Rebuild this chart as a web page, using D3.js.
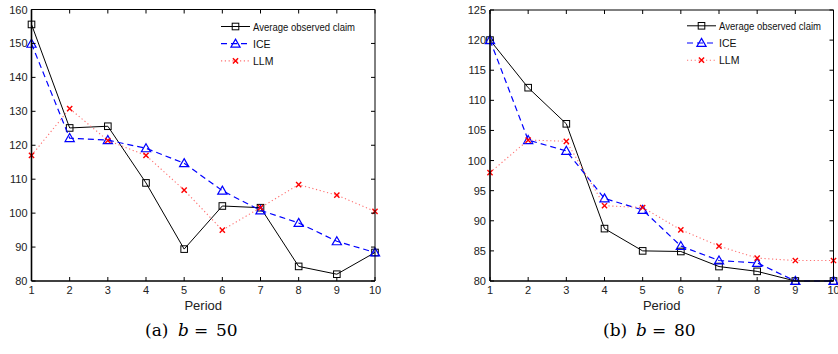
<!DOCTYPE html>
<html lang="en">
<head>
<meta charset="UTF-8" />
<title>Average observed claim vs ICE vs LLM</title>
<script src="https://d3js.org/d3.v7.min.js"></script>
<style>
  body { margin: 0; background: #fff; }
  svg { display: block; }
  .tick-label { font-family: "Liberation Sans", Arial, sans-serif; font-size: 11px; fill: #222; }
  .legend text { font-family: "Liberation Sans", Arial, sans-serif; font-size: 10.5px; fill: #111; }
  .caption { font-family: "DejaVu Serif", "Liberation Serif", serif; font-size: 17px; fill: #000; }
</style>
</head>
<body>
<div id="chart"></div>
<script>
// periods on the x axis
const periods = [1, 2, 3, 4, 5, 6, 7, 8, 9, 10];

// (a) b = 50
const avgClaim50 = [155.6, 125.1, 125.6, 108.9, 89.4, 102.1, 101.6, 84.3, 82.0, 88.4];
const ice50 = [149.9, 122.1, 121.5, 119.1, 114.7, 106.6, 100.8, 97.1, 91.7, 88.4];
const llm50 = [117.0, 130.8, 121.4, 117.0, 106.8, 95.0, 101.6, 108.4, 105.3, 100.5];
const yTicks50 = [80, 90, 100, 110, 120, 130, 140, 150, 160];

// (b) b = 80
const avgClaim80 = [120.0, 112.1, 106.1, 88.7, 85.0, 84.9, 82.4, 81.6, 80.0, 80.0];
const ice80 = [120.0, 103.4, 101.6, 93.7, 91.8, 85.8, 83.4, 83.0, 80.0, 80.0];
const llm80 = [98.0, 103.4, 103.2, 92.5, 92.2, 88.5, 85.8, 83.8, 83.4, 83.4];
const yTicks80 = [80, 85, 90, 95, 100, 105, 110, 115, 120, 125];

const seriesNames = ["Average observed claim", "ICE", "LLM"];

const W = 838, H = 354;
const svg = d3.select("#chart").append("svg").attr("width", W).attr("height", H);

// line / marker styles for each series
const styles = [
  { color: "#000", dash: null, width: 1, marker: "square" },
  { color: "#0000ff", dash: "6,4", width: 1.2, marker: "triangle" },
  { color: "#ff7070", dash: "1.2,2.6", width: 1.1, marker: "cross", markerColor: "#ff0000" }
];

function drawMarker(g, type, x, y, color) {
  if (type === "square") {
    g.append("rect").attr("x", x - 3.3).attr("y", y - 3.3).attr("width", 6.6).attr("height", 6.6)
      .attr("fill", "none").attr("stroke", color).attr("stroke-width", 1);
  } else if (type === "triangle") {
    const s = 4.6;
    g.append("path")
      .attr("d", `M${x},${y - s} L${x + s},${y + s * 0.75} L${x - s},${y + s * 0.75} Z`)
      .attr("fill", "none").attr("stroke", color).attr("stroke-width", 1.2);
  } else {
    const s = 2.6;
    g.append("path")
      .attr("d", `M${x - s},${y - s} L${x + s},${y + s} M${x - s},${y + s} L${x + s},${y - s}`)
      .attr("stroke", color).attr("stroke-width", 1.4);
  }
}

function drawPanel(p) {
  const x = d3.scaleLinear().domain([1, 10]).range([p.left, p.right]);
  const y = d3.scaleLinear().domain([p.yTicks[0], p.yTicks[p.yTicks.length - 1]]).range([p.bottom, p.top]);
  const g = svg.append("g");

  // series lines + markers
  p.series.forEach((vals, i) => {
    const st = styles[i];
    const line = d3.line().x((d, j) => x(periods[j])).y(d => y(d));
    g.append("path").datum(vals).attr("d", line)
      .attr("fill", "none").attr("stroke", st.color).attr("stroke-width", st.width)
      .attr("stroke-dasharray", st.dash);
    vals.forEach((v, j) => drawMarker(g, st.marker, x(periods[j]), y(v), st.markerColor || st.color));
  });

  // box with inward ticks
  const tl = 4;
  g.append("line").attr("x1", p.left).attr("x2", p.right).attr("y1", p.top).attr("y2", p.top).attr("stroke", "#000").attr("stroke-width", 1);
  g.append("line").attr("x1", p.right).attr("x2", p.right).attr("y1", p.top).attr("y2", p.bottom).attr("stroke", "#000").attr("stroke-width", 1);
  g.append("line").attr("x1", p.left).attr("x2", p.left).attr("y1", p.top).attr("y2", p.bottom).attr("stroke", "#000").attr("stroke-width", 1.6);
  g.append("line").attr("x1", p.left).attr("x2", p.right).attr("y1", p.bottom).attr("y2", p.bottom).attr("stroke", "#000").attr("stroke-width", 1.6);

  periods.forEach(t => {
    const px = x(t);
    g.append("line").attr("x1", px).attr("x2", px).attr("y1", p.bottom).attr("y2", p.bottom - tl).attr("stroke", "#000");
    g.append("line").attr("x1", px).attr("x2", px).attr("y1", p.top).attr("y2", p.top + tl).attr("stroke", "#000");
    g.append("text").attr("class", "tick-label").attr("x", px).attr("y", p.bottom + 13)
      .attr("text-anchor", "middle").text(t);
  });
  p.yTicks.forEach(t => {
    const py = y(t);
    g.append("line").attr("x1", p.left).attr("x2", p.left + tl).attr("y1", py).attr("y2", py).attr("stroke", "#000");
    g.append("line").attr("x1", p.right).attr("x2", p.right - tl).attr("y1", py).attr("y2", py).attr("stroke", "#000");
    g.append("text").attr("class", "tick-label").attr("x", p.left - 4).attr("y", py + 4)
      .attr("text-anchor", "end").text(t);
  });

  // x axis title
  g.append("text").attr("class", "tick-label").style("font-size", "13px")
    .attr("x", (p.left + p.right) / 2).attr("y", p.bottom + 29)
    .attr("text-anchor", "middle").text("Period");

  // legend
  const lg = g.append("g").attr("class", "legend");
  seriesNames.forEach((name, i) => {
    const st = styles[i];
    const ly = p.legendY + i * 17.2;
    lg.append("line").attr("x1", p.legendX).attr("x2", p.legendX + 29).attr("y1", ly).attr("y2", ly)
      .attr("stroke", st.color).attr("stroke-width", st.width).attr("stroke-dasharray", st.dash);
    drawMarker(lg, st.marker, p.legendX + 14.5, ly, st.markerColor || st.color);
    lg.append("text").attr("x", p.legendX + 32).attr("y", ly + 4)
      .attr("textLength", i === 0 ? 102 : null).attr("lengthAdjust", "spacingAndGlyphs")
      .text(name);
  });

  // caption: (a) b = 50
  const cx = p.captionX;
  const cap = g.append("text").attr("class", "caption").attr("y", 336);
  cap.append("tspan").attr("x", cx).text(p.captionTag);
  cap.append("tspan").attr("x", cx + 33).style("font-style", "italic").text("b");
  cap.append("tspan").attr("x", cx + 49).text("=");
  cap.append("tspan").attr("x", cx + 71).text(p.captionVal);
}

drawPanel({
  left: 31.5, right: 375, top: 9.5, bottom: 281,
  yTicks: yTicks50, series: [avgClaim50, ice50, llm50],
  legendX: 221, legendY: 26.5, captionX: 145, captionTag: "(a)", captionVal: "50"
});

drawPanel({
  left: 490, right: 833.5, top: 10, bottom: 281,
  yTicks: yTicks80, series: [avgClaim80, ice80, llm80],
  legendX: 687, legendY: 25.8, captionX: 603, captionTag: "(b)", captionVal: "80"
});
</script>
</body>
</html>
